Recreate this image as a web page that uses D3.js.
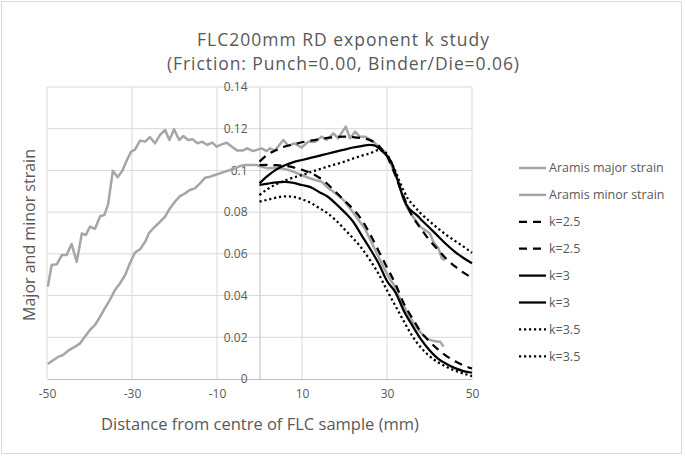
<!DOCTYPE html>
<html><head><meta charset="utf-8">
<script src="https://cdnjs.cloudflare.com/ajax/libs/d3/7.8.5/d3.min.js"></script>
<style>body{margin:0;background:#fff}svg{display:block}text{font-family:"Open Sans",sans-serif;fill:#595959}</style>
</head><body><div id="chart"></div>
<script>
const titleLines = ["FLC200mm RD exponent k study", "(Friction: Punch=0.00, Binder/Die=0.06)"];
const xLabel = "Distance from centre of FLC sample (mm)";
const yLabel = "Major and minor strain";
const xTicks = [-50, -30, -10, 10, 30, 50];
const yTicks = [0, 0.02, 0.04, 0.06, 0.08, 0.1, 0.12, 0.14];

const aramisMajor = [[-49.8,0.0443],[-48.9,0.0547],[-47.7,0.055],[-46.5,0.0594],[-45.4,0.0594],[-44.2,0.0647],[-43.0,0.0562],[-41.8,0.0698],[-40.9,0.069],[-39.9,0.073],[-38.7,0.072],[-37.5,0.078],[-36.5,0.0786],[-35.6,0.084],[-34.5,0.0999],[-33.4,0.0967],[-32.3,0.0997],[-31.2,0.105],[-30.2,0.109],[-29.3,0.110],[-28.1,0.1143],[-26.9,0.1138],[-25.8,0.116],[-24.6,0.113],[-23.4,0.117],[-22.2,0.1194],[-21.2,0.1146],[-20.1,0.1197],[-18.9,0.1146],[-17.9,0.1165],[-16.8,0.1146],[-15.7,0.1149],[-14.6,0.113],[-13.5,0.1138],[-12.3,0.1122],[-11.1,0.1133],[-10.1,0.1114],[-8.9,0.1125],[-7.7,0.1133],[-6.5,0.1114],[-5.2,0.1095],[-4.0,0.1095],[-2.9,0.1106],[-1.5,0.1093],[0.5,0.1106],[1.7,0.1093],[2.5,0.1106],[3.6,0.1095],[5.6,0.1146],[6.8,0.1118],[8.2,0.113],[9.9,0.111],[11.5,0.1138],[13.1,0.1138],[14.6,0.1162],[15.8,0.1146],[17.4,0.1178],[18.5,0.1154],[20.3,0.121],[21.3,0.1154],[22.5,0.1186],[23.6,0.1162],[24.8,0.1162],[26.8,0.1138],[28.0,0.1114],[29.5,0.109],[30.7,0.104],[31.5,0.1002],[32.7,0.0946],[33.8,0.0866],[34.6,0.0826],[35.8,0.0786],[37.0,0.0754],[37.8,0.073],[39.0,0.0714],[40.1,0.0698],[40.9,0.0658],[42.1,0.0627],[42.9,0.0579],[43.6,0.057]];

const aramisMinor = [[-49.8,0.0072],[-48.5,0.0091],[-47.3,0.0107],[-46.2,0.0115],[-45.0,0.0136],[-43.4,0.0155],[-42.2,0.0171],[-41.1,0.0203],[-39.9,0.0235],[-38.7,0.0259],[-37.5,0.0299],[-36.4,0.0339],[-35.2,0.0379],[-34.0,0.0427],[-32.8,0.0459],[-31.6,0.0499],[-30.5,0.0555],[-29.3,0.0606],[-28.1,0.0622],[-26.9,0.0658],[-26.0,0.07],[-25.0,0.0722],[-23.4,0.0754],[-22.2,0.0778],[-21.1,0.0818],[-19.9,0.085],[-18.7,0.0877],[-17.5,0.089],[-16.4,0.0906],[-15.2,0.0914],[-14.0,0.0938],[-12.8,0.0965],[-11.6,0.097],[-10.5,0.0978],[-9.3,0.0986],[-8.1,0.0994],[-6.9,0.1002],[-5.8,0.101],[-4.6,0.1021],[-3.4,0.1026],[-2.2,0.1026],[-0.7,0.1026],[0.5,0.1018],[2.1,0.101],[3.6,0.1013],[5.2,0.101],[6.8,0.1002],[8.4,0.0991],[9.9,0.0978],[11.5,0.0965],[13.1,0.0954],[14.6,0.0946],[15.8,0.0922],[17.4,0.0898],[18.9,0.0874],[20.1,0.085],[21.3,0.0818],[22.5,0.0786],[23.6,0.0754],[24.8,0.0722],[26.0,0.067],[27.6,0.0603],[29.2,0.0535],[30.8,0.0475],[31.5,0.0455],[32.5,0.041],[33.8,0.0355],[35.0,0.031],[36.2,0.027],[37.4,0.0235],[38.5,0.021],[39.7,0.019],[40.9,0.0183],[42.0,0.0179],[42.5,0.0179],[43.3,0.0155]];

const k25Major = [[0,0.1042],[2,0.1077],[4,0.1098],[6,0.1115],[8,0.1125],[10,0.1135],[12,0.1143],[14,0.115],[16,0.1156],[18,0.116],[20,0.1162],[22,0.116],[24,0.1155],[26,0.1145],[28,0.112],[29,0.1095],[30,0.107],[31,0.1025],[32,0.0975],[33,0.092],[34,0.087],[35,0.082],[36,0.078],[38,0.072],[40,0.0665],[42,0.062],[44,0.0575],[46,0.054],[48,0.051],[50,0.0485]];
const k25Minor = [[0,0.1025],[2,0.1027],[4,0.1025],[6,0.1022],[8,0.1015],[10,0.1003],[12,0.0988],[14,0.0966],[16,0.0935],[18,0.0895],[20,0.0855],[22,0.0815],[24,0.0765],[26,0.0695],[28,0.0615],[30,0.0535],[32,0.0455],[34,0.036],[36,0.029],[38,0.0225],[40,0.018],[42,0.0142],[44,0.011],[46,0.0085],[48,0.0065],[50,0.005]];
const k3Major = [[0,0.0938],[2,0.0975],[4,0.1005],[6,0.1025],[8,0.104],[10,0.105],[12,0.106],[14,0.107],[16,0.108],[18,0.109],[20,0.11],[22,0.111],[24,0.1117],[26,0.1122],[27,0.112],[28,0.1108],[29,0.109],[30,0.107],[31,0.104],[32,0.0985],[33,0.092],[34,0.086],[35,0.0822],[36,0.0802],[37,0.0786],[38,0.0765],[40,0.0725],[42,0.0685],[44,0.0645],[46,0.061],[48,0.058],[50,0.0555]];
const k3Minor = [[0,0.093],[2,0.0937],[4,0.0943],[6,0.0945],[8,0.094],[10,0.093],[12,0.092],[14,0.0897],[16,0.0875],[18,0.084],[20,0.08],[22,0.0755],[24,0.069],[26,0.0625],[28,0.0555],[30,0.047],[32,0.0415],[34,0.0325],[36,0.0255],[38,0.019],[40,0.0138],[42,0.0098],[44,0.0072],[46,0.0052],[48,0.0038],[50,0.003]];
const k35Major = [[0,0.0882],[2,0.0912],[4,0.0935],[6,0.0952],[8,0.0966],[10,0.0978],[12,0.0992],[14,0.1005],[16,0.1018],[18,0.103],[20,0.1042],[22,0.1057],[24,0.107],[26,0.1082],[28,0.1097],[29,0.1095],[30,0.1078],[31,0.104],[32,0.0995],[33,0.0945],[34,0.09],[35,0.0862],[36,0.0838],[38,0.0793],[40,0.0757],[42,0.0722],[44,0.069],[46,0.0662],[48,0.0635],[50,0.0605]];
const k35Minor = [[0,0.085],[2,0.086],[4,0.087],[6,0.0876],[8,0.0873],[10,0.0862],[12,0.0845],[14,0.082],[16,0.0795],[18,0.076],[20,0.0718],[22,0.0675],[24,0.0628],[26,0.057],[28,0.0505],[30,0.0425],[32,0.035],[34,0.0275],[36,0.0205],[38,0.015],[40,0.011],[42,0.008],[44,0.0058],[46,0.004],[48,0.0026],[50,0.0014]];

const seriesNames = ["Aramis major strain","Aramis minor strain","k=2.5","k=2.5","k=3","k=3","k=3.5","k=3.5"];
const seriesData = [aramisMajor, aramisMinor, k25Major, k25Minor, k3Major, k3Minor, k35Major, k35Minor];
const seriesStyle = [
  {c:"#a6a6a6", w:2.5, d:null, smooth:false},
  {c:"#a6a6a6", w:2.5, d:null, smooth:false},
  {c:"#000", w:2.25, d:"8,6", smooth:true},
  {c:"#000", w:2.25, d:"8,6", smooth:true},
  {c:"#000", w:2.25, d:null, smooth:true},
  {c:"#000", w:2.25, d:null, smooth:true},
  {c:"#000", w:2.25, d:"2.2,2.8", smooth:true},
  {c:"#000", w:2.25, d:"2.2,2.8", smooth:true}
];

const W = 685, H = 457;
const svg = d3.select("#chart").append("svg").attr("width", W).attr("height", H);
svg.append("rect").attr("x",1.5).attr("y",1.5).attr("width",680).attr("height",452)
  .attr("fill","#fff").attr("stroke","#d9d9d9");

const x = d3.scaleLinear().domain([-50,50]).range([47,472]);
const y = d3.scaleLinear().domain([0,0.14]).range([379,87]);

// gridlines
svg.append("g").selectAll("line").data(yTicks.filter(d=>d>0)).join("line")
  .attr("x1",x(-50)).attr("x2",x(50)).attr("y1",d=>y(d)).attr("y2",d=>y(d))
  .attr("stroke","#d9d9d9").attr("stroke-width",1);
svg.append("g").selectAll("line").data(xTicks).join("line")
  .attr("x1",d=>x(d)).attr("x2",d=>x(d)).attr("y1",y(0)).attr("y2",y(0.14))
  .attr("stroke","#d9d9d9").attr("stroke-width",1);

// axes
const xAxis = d3.axisBottom(x).tickValues(xTicks).tickSize(0).tickPadding(10).tickFormat(d=>String(d));
const gx = svg.append("g").attr("transform",`translate(0,${y(0)})`).call(xAxis);
gx.select(".domain").attr("stroke","#bfbfbf");
gx.selectAll("text").attr("font-size","12px").attr("fill","#595959").style("font-family","'Open Sans',sans-serif");

const yAxis = d3.axisLeft(y).tickValues(yTicks).tickSize(0).tickPadding(12).tickFormat(d=>d===0?"0":String(+d.toFixed(2)));
const gy = svg.append("g").attr("transform",`translate(${x(0)},0)`).call(yAxis);
gy.select(".domain").attr("stroke","#bfbfbf");
gy.selectAll("text").attr("font-size","12px").attr("fill","#595959").style("font-family","'Open Sans',sans-serif");

// lines
const lineLin = d3.line().x(d=>x(d[0])).y(d=>y(d[1]));
const lineSm = d3.line().x(d=>x(d[0])).y(d=>y(d[1])).curve(d3.curveMonotoneX);
seriesData.forEach((data,i)=>{
  const s = seriesStyle[i];
  svg.append("path").datum(data).attr("d", s.smooth?lineSm:lineLin)
    .attr("fill","none").attr("stroke",s.c).attr("stroke-width",s.w)
    .attr("stroke-dasharray",s.d).attr("stroke-linejoin","round");
});

// titles
svg.append("text").attr("x",343).attr("y",45.5).attr("text-anchor","middle").attr("font-size","17.5px").attr("textLength",292).attr("lengthAdjust","spacing").text(titleLines[0]);
svg.append("text").attr("x",343).attr("y",70).attr("text-anchor","middle").attr("font-size","17.5px").attr("textLength",352).attr("lengthAdjust","spacing").text(titleLines[1]);
svg.append("text").attr("x",260).attr("y",430).attr("text-anchor","middle").attr("font-size","16.5px").text(xLabel);
svg.append("text").attr("transform","translate(35,235) rotate(-90)").attr("text-anchor","middle").attr("font-size","16px").text(yLabel);

// legend
const lg = svg.append("g");
seriesNames.forEach((name,i)=>{
  const s = seriesStyle[i];
  const ly = 168 + i*26.9;
  lg.append("line").attr("x1",519).attr("x2",546).attr("y1",ly).attr("y2",ly)
    .attr("stroke",s.c).attr("stroke-width",s.w).attr("stroke-dasharray",s.d);
  lg.append("text").attr("x",549).attr("y",ly).attr("dy","0.35em").attr("font-size","12.5px").text(name);
});
</script></body></html>
